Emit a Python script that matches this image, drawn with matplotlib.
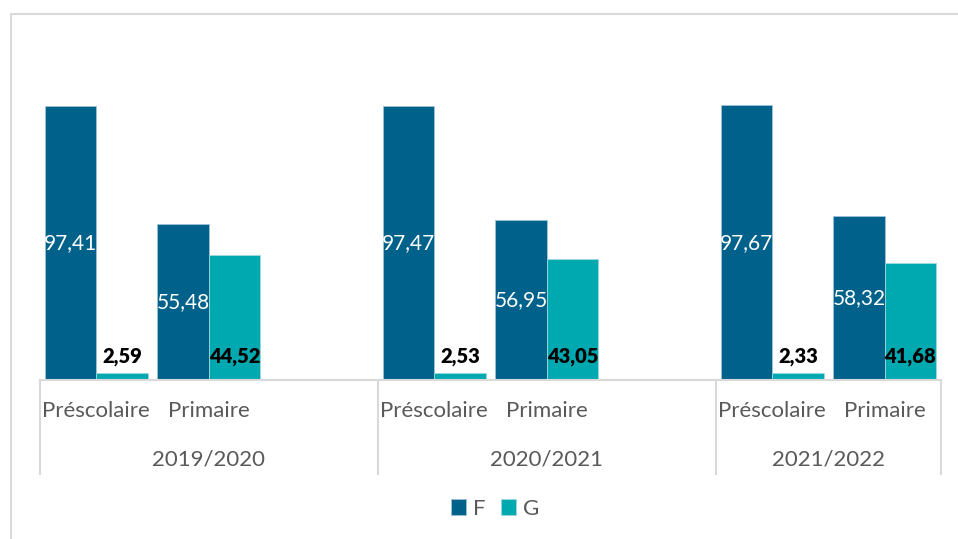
import matplotlib.pyplot as plt
from matplotlib.patches import Rectangle
from matplotlib.transforms import blended_transform_factory

plt.rcParams['font.family'] = ['Lato', 'DejaVu Sans']

# data
years = ["2019/2020", "2020/2021", "2021/2022"]
levels = ["Préscolaire", "Primaire"]
f_values = [[97.41, 55.48], [97.47, 56.95], [97.67, 58.32]]
g_values = [[2.59, 44.52], [2.53, 43.05], [2.33, 41.68]]

col_f = "#00628A"
col_g = "#00A8B0"
grey = "#595959"
line_grey = "#D9D9D9"

fig = plt.figure(figsize=(9.58, 5.39), dpi=100)
W, H = 958, 539

# outer chart frame (top and left edges visible)
fig.add_artist(Rectangle((10.5 / W, -0.1), 1.2, (539 - 14) / H + 0.1,
                         transform=fig.transFigure, fill=False,
                         edgecolor=line_grey, linewidth=1.5))

ax_left, ax_right = 40 / W, 941 / W
ax_bottom, ax_top = 1 - 380 / H, 1 - 42.5 / H
ax = fig.add_axes([ax_left, ax_bottom, ax_right - ax_left, ax_top - ax_bottom])

# each year takes 3 category slots (the third is empty), the last one only 2
bw = 0.457
positions = []
ticklabels = []
for yi in range(len(years)):
    for li in range(len(levels)):
        x = yi * 3 + li
        positions.append(x)
        ticklabels.append(levels[li])
        fv = f_values[yi][li]
        gv = g_values[yi][li]
        ax.bar(x - bw / 2, fv, bw, color=col_f, edgecolor="#9DC3D6", linewidth=0.6,
               label="F" if x == 0 else None)
        ax.bar(x + bw / 2, gv, bw, color=col_g, edgecolor="#9DD8DC", linewidth=0.6,
               label="G" if x == 0 else None)
        ax.text(x - bw / 2, fv / 2, f"{fv:.2f}".replace(".", ","), ha="center",
                va="center", color="white", fontsize=15)
        ax.annotate(f"{gv:.2f}".replace(".", ","), (x + bw / 2, 0),
                    xytext=(0, 17), textcoords="offset points", ha="center",
                    va="center", color="black", fontsize=14.5, fontweight="heavy")

n_slots = 8
ax.set_xlim(-0.5, n_slots - 0.5)
ax.set_ylim(0, 120)
ax.set_yticks([])
ax.set_xticks([])
for s in ["top", "right", "left"]:
    ax.spines[s].set_visible(False)
ax.spines["bottom"].set_color(line_grey)
ax.spines["bottom"].set_linewidth(1.5)

trans = blended_transform_factory(ax.transData, ax.transAxes)
axh = 380 - 42.5
for x, lab in zip(positions, ticklabels):
    ax.text(x, -31 / axh, lab, transform=trans, ha="center", va="center",
            color=grey, fontsize=16)
for yi, yr in enumerate(years):
    start = yi * 3 - 0.5
    end = min(start + 3, n_slots - 0.5)
    ax.text((start + end) / 2, -79 / axh, yr, transform=trans,
            ha="center", va="center", color=grey, fontsize=16)
    ax.plot([start, start], [0, -94 / axh], transform=trans, color=line_grey,
            linewidth=1.5, clip_on=False)
ax.plot([n_slots - 0.5] * 2, [0, -94 / axh], transform=trans, color=line_grey,
        linewidth=1.5, clip_on=False)

fig.legend(loc="center", bbox_to_anchor=(495 / W, 1 - 509 / H), ncol=2,
           frameon=False, fontsize=16, handlelength=0.7, handleheight=0.7,
           handletextpad=0.3, columnspacing=0.7, labelcolor=grey)

fig.savefig("out.png", dpi=100)
